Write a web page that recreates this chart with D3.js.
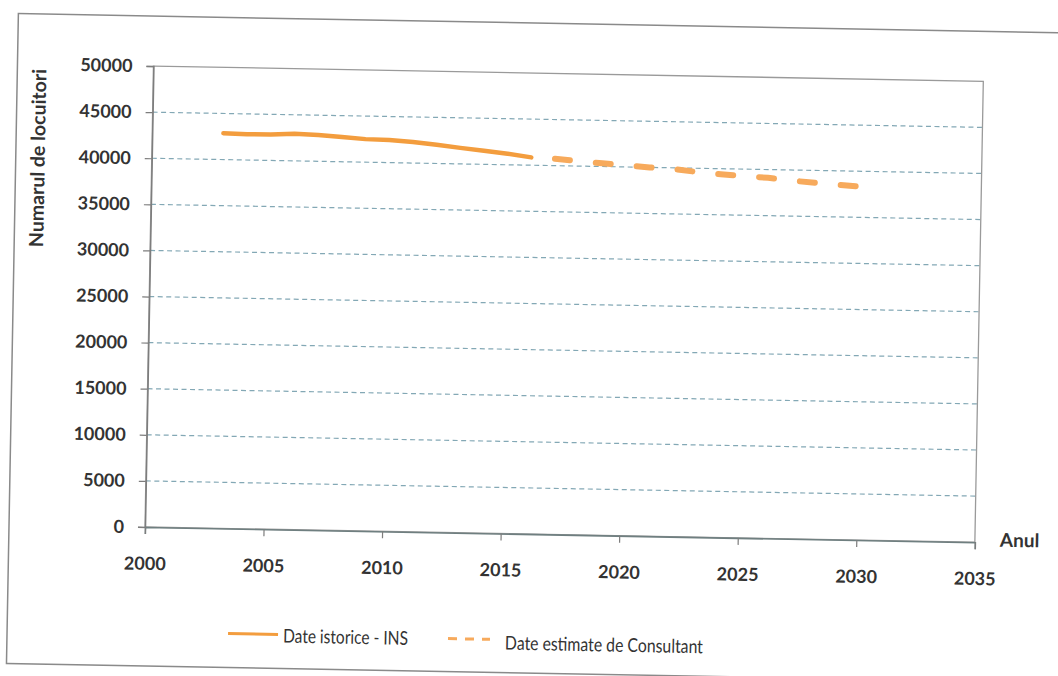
<!DOCTYPE html>
<html>
<head>
<meta charset="utf-8">
<script src="https://cdn.jsdelivr.net/npm/d3@7"></script>
<style>
  html, body { margin: 0; padding: 0; background: #ffffff; }
  svg { display: block; }
  text { font-family: Lato, "Open Sans", sans-serif; fill: #333; }
</style>
</head>
<body>
<svg id="chart" width="1058" height="676"></svg>
<script>
// Population series: historical (INS) and consultant estimates
const histYears = [2003, 2004, 2005, 2006, 2007, 2008, 2009, 2010, 2011, 2012, 2013, 2014, 2015, 2016];
const histValues = [42850, 42800, 42800, 42950, 42850, 42680, 42500, 42440, 42280, 42020, 41740, 41470, 41200, 40850];
const estYears = [2017, 2018, 2019, 2020, 2021, 2022, 2023, 2024, 2025, 2026, 2027, 2028, 2029, 2030];
const estValues = [40750, 40550, 40350, 40180, 40000, 39870, 39600, 39400, 39250, 39100, 38850, 38650, 38480, 38300];
const xTicks = [2000, 2005, 2010, 2015, 2020, 2025, 2030, 2035];
const yTicks = [0, 5000, 10000, 15000, 20000, 25000, 30000, 35000, 40000, 45000, 50000];
const legendLabels = ["Date istorice - INS", "Date estimate de Consultant"];

const svg = d3.select("#chart");
const plotLeft = 145, plotRight = 975, plotTop = 66, plotBottom = 527;

// whole sheet sits slightly tilted
const g = svg.append("g").attr("transform", `rotate(1.05, ${plotLeft}, ${plotBottom})`);

// outer chart frame
g.append("rect")
  .attr("x", 9).attr("y", 16).attr("width", 1076).attr("height", 650)
  .attr("fill", "#ffffff").attr("stroke", "#8a8a8a").attr("stroke-width", 1.5);

const x = d3.scaleLinear().domain([2000, 2035]).range([plotLeft, plotRight]);
const y = d3.scaleLinear().domain([0, 50000]).range([plotBottom, plotTop]);

// horizontal dashed gridlines
g.append("g").selectAll("line")
  .data(yTicks.filter(v => v > 0 && v < 50000))
  .join("line")
  .attr("x1", plotLeft).attr("x2", plotRight)
  .attr("y1", d => y(d)).attr("y2", d => y(d))
  .attr("stroke", "#83a8b5").attr("stroke-width", 1.2)
  .attr("stroke-dasharray", "5,3.5");

// plot area border
g.append("rect")
  .attr("x", plotLeft).attr("y", plotTop).attr("width", plotRight - plotLeft).attr("height", plotBottom - plotTop)
  .attr("fill", "none").attr("stroke", "#9a9a9a").attr("stroke-width", 1.3);

// y axis
const yAxis = g.append("g")
  .attr("transform", `translate(${plotLeft},0)`)
  .call(d3.axisLeft(y).tickValues(yTicks).tickFormat(d3.format("d")).tickSize(7).tickPadding(14));
yAxis.select(".domain").attr("stroke", "#7d7d7d").attr("stroke-width", 1.5);
yAxis.selectAll(".tick line").attr("stroke", "#7d7d7d").attr("stroke-width", 1.2);
yAxis.selectAll(".tick text")
  .attr("font-size", 18).attr("font-weight", 700).attr("fill", "#363636")
  .style("font-family", "Lato, sans-serif");

// x axis
const xAxis = g.append("g")
  .attr("transform", `translate(0,${plotBottom})`)
  .call(d3.axisBottom(x).tickValues(xTicks).tickFormat(d3.format("d")).tickSize(7).tickPadding(23));
xAxis.select(".domain").attr("stroke", "#6f7f80").attr("stroke-width", 1.6);
xAxis.selectAll(".tick line").attr("stroke", "#7d7d7d").attr("stroke-width", 1.2);
xAxis.selectAll(".tick text")
  .attr("font-size", 18).attr("font-weight", 700).attr("fill", "#363636")
  .style("font-family", "Lato, sans-serif");

// axis titles
g.append("text")
  .attr("transform", "translate(38,160) rotate(-90)")
  .attr("text-anchor", "middle")
  .attr("font-size", 19.5).attr("font-weight", 700).attr("fill", "#333")
  .text("Numarul de locuitori");

g.append("text")
  .attr("x", 1000).attr("y", 531)
  .attr("font-size", 19).attr("font-weight", 700).attr("fill", "#333")
  .text("Anul");

// series lines
const line = d3.line().x(d => x(d[0])).y(d => y(d[1]));

g.append("path")
  .datum(histYears.map((yr, i) => [yr, histValues[i]]))
  .attr("d", line)
  .attr("fill", "none").attr("stroke", "#f39d3e").attr("stroke-width", 4.5)
  .attr("stroke-linecap", "round").attr("stroke-linejoin", "round");

g.append("path")
  .datum(estYears.map((yr, i) => [yr, estValues[i]]))
  .attr("d", line)
  .attr("fill", "none").attr("stroke", "#f7aa5c").attr("stroke-width", 6)
  .attr("stroke-dasharray", "15,26").attr("stroke-linecap", "round");

// legend
const legend = g.append("g");
legend.append("line")
  .attr("x1", 230).attr("x2", 280).attr("y1", 632).attr("y2", 632)
  .attr("stroke", "#f39d3e").attr("stroke-width", 3);
legend.append("text")
  .attr("x", 285).attr("y", 640)
  .attr("font-size", 19).attr("fill", "#222")
  .attr("textLength", 125).attr("lengthAdjust", "spacingAndGlyphs")
  .text(legendLabels[0]);
legend.append("line")
  .attr("x1", 450).attr("x2", 492).attr("y1", 633).attr("y2", 633)
  .attr("stroke", "#f7aa5c").attr("stroke-width", 3)
  .attr("stroke-dasharray", "9,8");
legend.append("text")
  .attr("x", 507).attr("y", 643)
  .attr("font-size", 19).attr("fill", "#222")
  .attr("textLength", 198).attr("lengthAdjust", "spacingAndGlyphs")
  .text(legendLabels[1]);
</script>
</body>
</html>
